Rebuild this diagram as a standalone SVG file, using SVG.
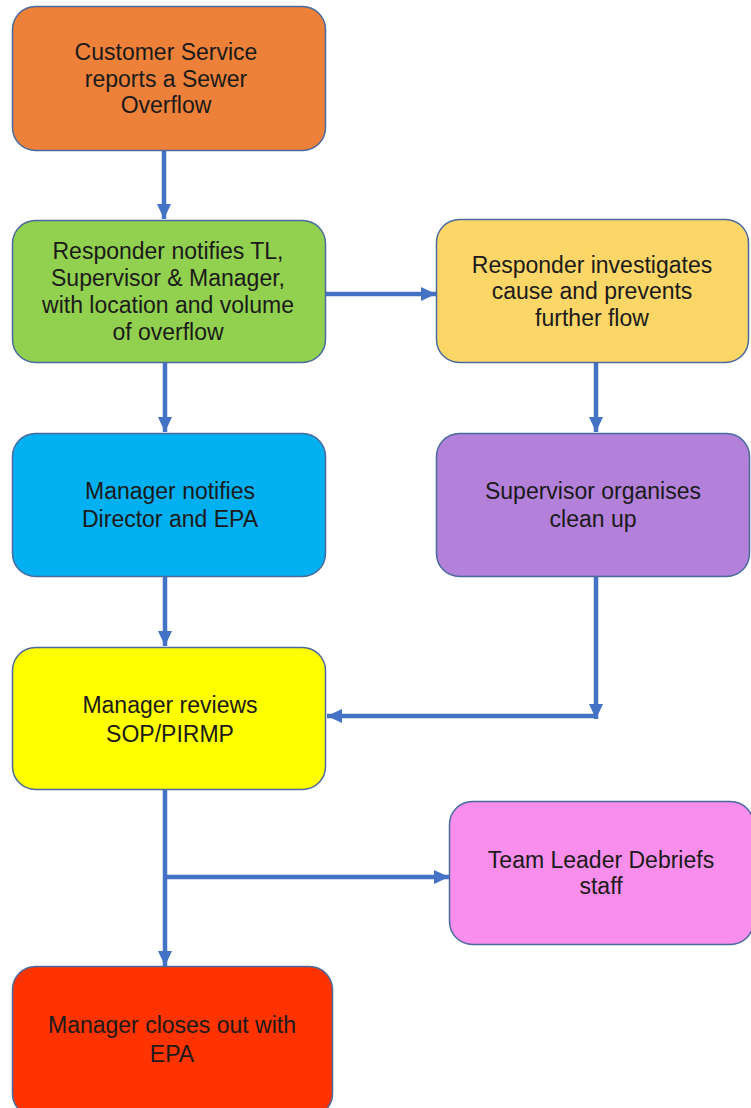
<svg xmlns="http://www.w3.org/2000/svg" width="751" height="1108" viewBox="0 0 751 1108">
<defs>
<style>
.box{stroke:#4A6A9E;stroke-width:1.5}
.t{font-family:"Liberation Sans",Arial,sans-serif;font-size:23px;fill:#1a1a1a;text-anchor:middle}
.c{stroke:#4472C4;stroke-width:4.5;fill:none}
</style>
<marker id="ah" markerUnits="userSpaceOnUse" markerWidth="16" markerHeight="16" viewBox="0 0 16 16" refX="15" refY="8" orient="auto">
<path d="M0,1 L15,8 L0,15 Z" fill="#4472C4"/>
</marker>
</defs>
<rect width="751" height="1108" fill="#ffffff"/>
<g id="connectors">
<line class="c" x1="164" y1="150" x2="164" y2="219" marker-end="url(#ah)"/>
<line class="c" x1="326" y1="294" x2="436" y2="294" marker-end="url(#ah)"/>
<line class="c" x1="165" y1="363" x2="165" y2="432" marker-end="url(#ah)"/>
<line class="c" x1="596" y1="363" x2="596" y2="432" marker-end="url(#ah)"/>
<line class="c" x1="165" y1="577" x2="165" y2="646" marker-end="url(#ah)"/>
<line class="c" x1="596" y1="577" x2="596" y2="719" marker-end="url(#ah)"/>
<line class="c" x1="598" y1="716" x2="327" y2="716" marker-end="url(#ah)"/>
<line class="c" x1="165" y1="790" x2="165" y2="966" marker-end="url(#ah)"/>
<line class="c" x1="165" y1="877" x2="449" y2="877" marker-end="url(#ah)"/>
</g>
<g id="n1">
<rect class="box" x="12.5" y="6.5" width="313" height="144" rx="23" fill="#ED8139"/>
<text class="t" x="166" y="60">Customer Service</text>
<text class="t" x="166" y="87">reports a Sewer</text>
<text class="t" x="166" y="113">Overflow</text>
</g>
<g id="n2">
<rect class="box" x="12.5" y="220.5" width="313" height="142" rx="23" fill="#92D050"/>
<text class="t" x="168" y="259">Responder notifies TL,</text>
<text class="t" x="168" y="286">Supervisor &amp; Manager,</text>
<text class="t" x="168" y="313">with location and volume</text>
<text class="t" x="168" y="340">of overflow</text>
</g>
<g id="n3">
<rect class="box" x="436.5" y="219.5" width="312" height="143" rx="23" fill="#FDD668"/>
<text class="t" x="592" y="273">Responder investigates</text>
<text class="t" x="592" y="299">cause and prevents</text>
<text class="t" x="592" y="326">further flow</text>
</g>
<g id="n4">
<rect class="box" x="12.5" y="433.5" width="313" height="143" rx="23" fill="#00B0F0"/>
<text class="t" x="170" y="499">Manager notifies</text>
<text class="t" x="170" y="527">Director and EPA</text>
</g>
<g id="n5">
<rect class="box" x="436.5" y="433.5" width="313" height="143" rx="23" fill="#B381D9"/>
<text class="t" x="593" y="499">Supervisor organises</text>
<text class="t" x="593" y="527">clean up</text>
</g>
<g id="n6">
<rect class="box" x="12.5" y="647.5" width="313" height="142" rx="23" fill="#FFFF00"/>
<text class="t" x="170" y="713">Manager reviews</text>
<text class="t" x="170" y="742">SOP/PIRMP</text>
</g>
<g id="n7">
<rect class="box" x="449.5" y="801.5" width="304" height="143" rx="23" fill="#F98EEC"/>
<text class="t" x="601" y="868">Team Leader Debriefs</text>
<text class="t" x="601" y="894">staff</text>
</g>
<g id="n8">
<rect class="box" x="12.5" y="966.5" width="320" height="150" rx="23" fill="#FF3300"/>
<text class="t" x="172" y="1033">Manager closes out with</text>
<text class="t" x="172" y="1062">EPA</text>
</g>
</svg>
